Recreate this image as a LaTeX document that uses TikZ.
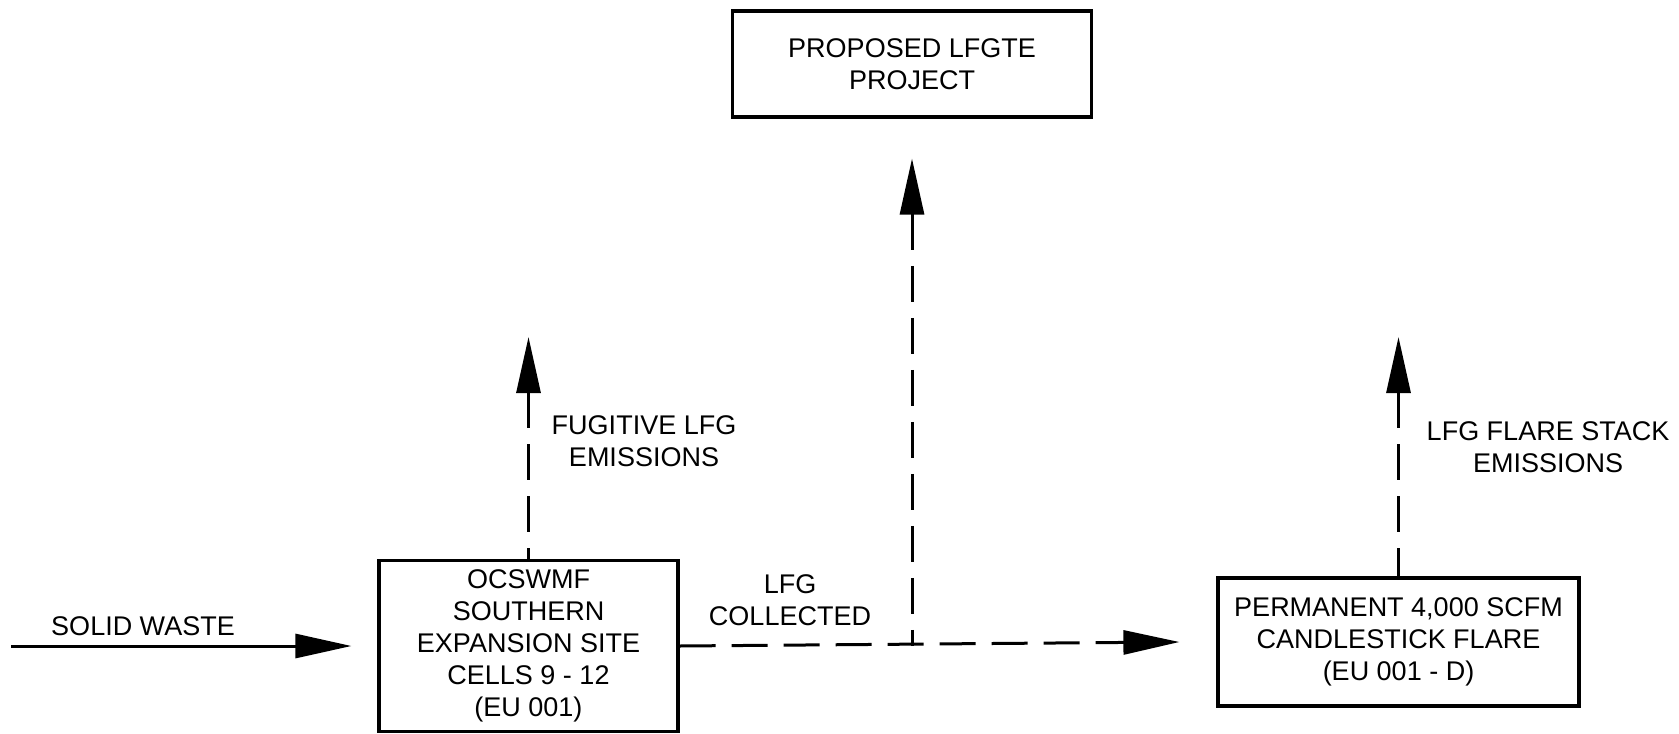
\documentclass[tikz,border=0pt]{standalone}
\usepackage{fontspec}
\setmainfont{Liberation Sans}
\usetikzlibrary{arrows.meta}
\begin{document}
\begin{tikzpicture}[x=0.5pt,y=-0.5pt,
  txt/.style={font=\fontsize{13.5pt}{16pt}\selectfont},
  box/.style={txt, draw, line width=1.6pt, align=center, inner sep=0pt},
  lbl/.style={txt, align=center, inner sep=0pt},
  flow/.style={line width=1.5pt},
  dashedflow/.style={flow, dash pattern=on 18pt off 8pt},
  tipend/.style={-{Triangle[length=28pt,width=12pt]}},
  tipstart/.style={{Triangle[length=28pt,width=12pt]}-},
]
\useasboundingbox (0,0) rectangle (1679,733);

% process boxes
\node[box, minimum width=149.5pt, minimum height=85.5pt] (site) at (528.5,646)
  {OCSWMF\\SOUTHERN\\EXPANSION SITE\\CELLS 9 - 12\\(EU 001)};
\node[box, minimum width=179.5pt, minimum height=53pt] (lfgte) at (912,64)
  {PROPOSED LFGTE\\PROJECT};
\node[box, minimum width=180.5pt, minimum height=64pt] (flare) at (1398.5,642)
  {PERMANENT 4,000 SCFM\\CANDLESTICK FLARE\\(EU 001 - D)};

% connector end points
\coordinate (swstart) at (11,646);
\coordinate (sitein) at ([xshift=-13pt]site.west);
\coordinate (flarein) at ([xshift=-18.5pt]flare.west);
\coordinate (junction) at (912,646);
\coordinate (lfgtein) at ([yshift=-20pt]lfgte.south);
\coordinate (fugtip) at (528.5,337);
\coordinate (stacktip) at (1398.5,337);

% flows
\draw[flow, tipend] (swstart) -- (sitein);
\draw[dashedflow, tipend] (site.east) -- (flarein);
\draw[dashedflow, tipstart] (lfgtein) -- (junction);
\draw[dashedflow, tipstart] (fugtip) -- (site.north);
\draw[dashedflow, tipstart] (stacktip) -- (flare.north);

% flow labels
\node[lbl] (swlabel) at (143,626) {SOLID WASTE};
\node[lbl] (collected) at (790,600) {LFG\\COLLECTED};
\node[lbl] (fuglabel) at (644,441) {FUGITIVE LFG\\EMISSIONS};
\node[lbl] (stacklabel) at (1548,447) {LFG FLARE STACK\\EMISSIONS};
\end{tikzpicture}
\end{document}
